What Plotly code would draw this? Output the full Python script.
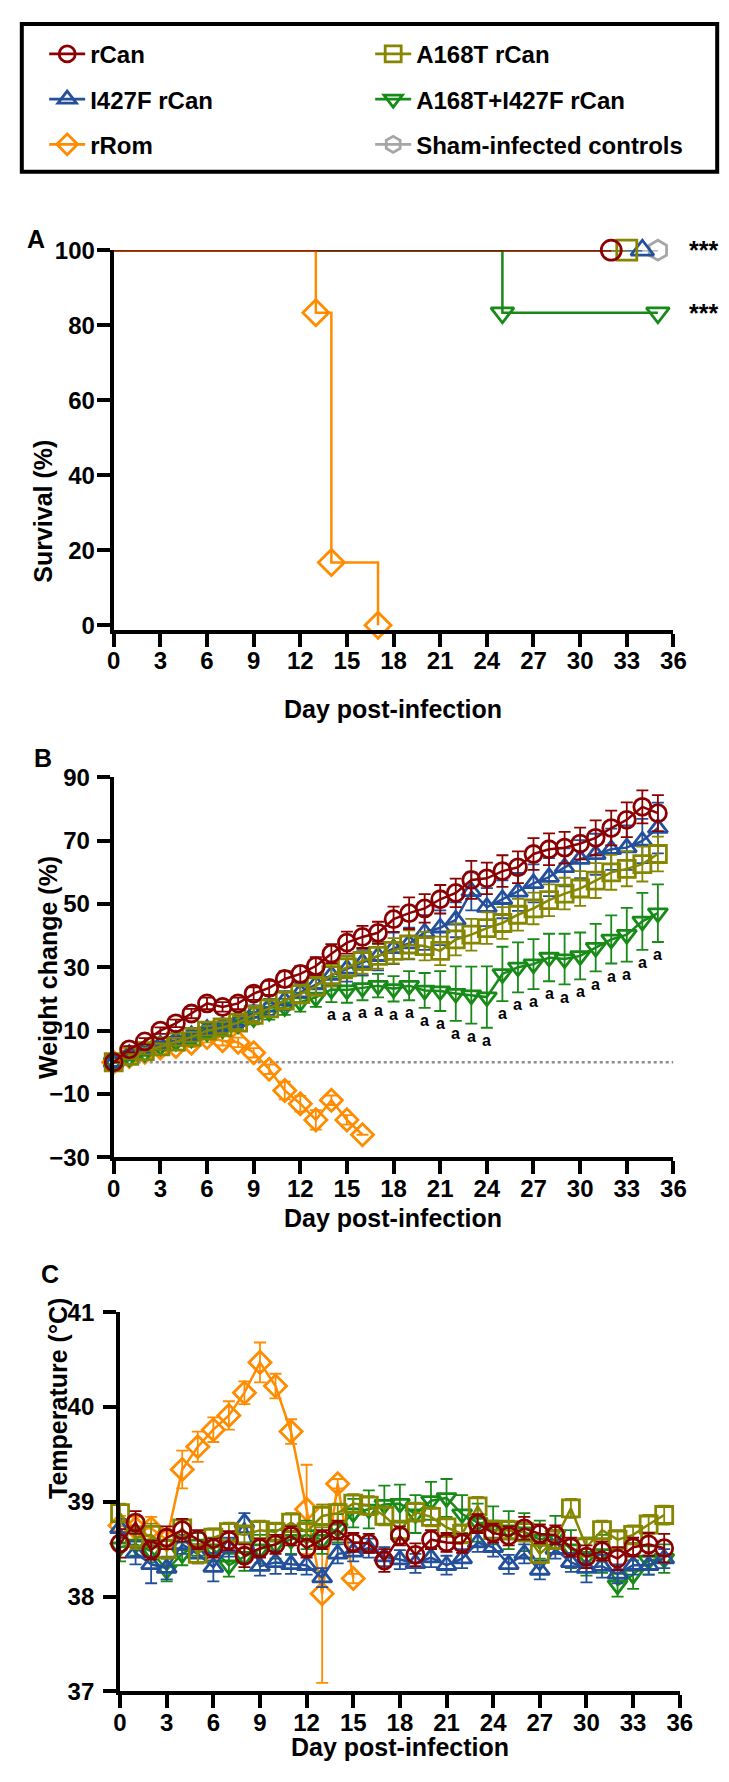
import plotly.graph_objects as go

FONT = 'Liberation Sans, Arial, sans-serif'
W, H = 729, 1782

# ---------------- data ----------------
names = ['rCan', 'I427F rCan', 'rRom', 'A168T rCan', 'A168T+I427F rCan', 'Sham-infected controls']
colors = ['#8B0000', '#234F9B', '#FF8C00', '#868600', '#178A17', '#A6A6A6']
symbols = ['circle-open', 'triangle-up-open', 'diamond-open', 'square-open',
           'triangle-down-open', 'hexagon-open']
legend_rank = [1, 3, 5, 2, 4, 6]

# panel A: Kaplan-Meier survival steps (day, %)
surv_rcan_day = [0, 32]
surv_rcan_pct = [100, 100]
surv_i427f_day = [0, 34]
surv_i427f_pct = [100, 100]
surv_rrom_day = [0, 13, 14, 17]
surv_rrom_pct = [100, 83.3, 16.7, 0]
surv_a168t_day = [0, 33]
surv_a168t_pct = [100, 100]
surv_double_day = [0, 25, 35]
surv_double_pct = [100, 83.3, 83.3]
surv_sham_day = [0, 35]
surv_sham_pct = [100, 100]
surv_stars = ['***', '***']

# panel B: weight change (%)
days = [0, 1, 2, 3, 4, 5, 6, 7, 8, 9, 10, 11, 12, 13, 14, 15, 16, 17,
        18, 19, 20, 21, 22, 23, 24, 25, 26, 27, 28, 29, 30, 31, 32, 33, 34, 35]
wt_rcan = [0, 4.1, 6.6, 10.0, 12.3, 15.4, 18.6, 17.5, 18.6, 21.7, 23.5, 26.3, 27.9, 30.4,
           34.3, 37.8, 39.6, 40.9, 45.2, 47.1, 48.6, 51.5, 53.5, 57.6, 58.1, 60.4, 61.6,
           65.8, 67.3, 67.8, 69.1, 70.9, 74.0, 76.6, 80.7, 78.7]
wt_rcan_err = [0, 1, 1, 1, 1.2, 1.5, 1.8, 1.5, 1.8, 2, 2.2, 2.5, 2.5, 2.8, 3, 3.5, 3.5,
               3.5, 4, 5, 4.5, 4.5, 4.5, 6, 5, 5, 5, 5, 5, 5, 5, 5.5, 5.5, 5.5, 5.2, 5.7]
wt_i427f = [0, 2.5, 4, 5.5, 7, 8.5, 10.5, 11.5, 13, 15.5, 17.5, 19.5, 22, 24.5, 27.5,
            29.5, 31.5, 33.5, 36, 37.5, 41, 42.5, 45, 54, 49, 51.5, 53.8, 56.5, 58.5,
            61.6, 64.2, 65.7, 67.3, 67.8, 69.9, 74.0]
wt_i427f_err = [0, 1, 1, 1, 1.2, 1.5, 1.8, 2, 2, 2.5, 2.5, 3, 3, 3, 3.5, 4, 4, 4.5, 5, 5,
                5.5, 5.5, 5.5, 6, 6, 6, 6, 6, 6, 6, 6, 6.5, 6.5, 7, 7, 8]
wt_rrom = [0, 1.8, 3.2, 4.5, 5, 6, 7.8, 6.8, 6.3, 3.0, -2.2, -8.9, -13.1, -18.2,
           -12.0, -18.2, -22.9]
wt_rrom_err = [0, 0.8, 1, 1, 1, 1.2, 1.5, 1.5, 1.5, 1.5, 1.5, 2.8, 2.5, 3.1, 1.5, 1.5, 0]
wt_a168t = [0, 2, 3.5, 5, 6.5, 8, 10, 11, 12.5, 15, 17, 19.5, 21.5, 24, 27.5, 30, 32,
            33.6, 35.2, 37.2, 36.7, 35.2, 38.8, 40.3, 42.4, 44.0, 46.6, 48.6, 51.2, 53.3,
            54.9, 57.4, 60.0, 61.1, 62.6, 65.8]
wt_a168t_err = [0, 1, 1, 1, 1.2, 1.5, 1.5, 1.8, 2, 2, 2.5, 2.5, 3, 3, 3.5, 3.5, 4, 4, 4,
                4.5, 4.5, 4.5, 5, 5, 5, 5, 5, 5, 5, 5, 5.5, 5.5, 5.5, 5.5, 5.5, 5.5]
wt_double = [0, 1.5, 3, 5, 6.5, 7.5, 9.5, 10.5, 12, 14, 16, 17.5, 19, 20.5, 23, 22.8,
             23.5, 24.2, 23.2, 24.2, 22.7, 22.5, 21.7, 21.2, 20.6, 27.9, 30.0, 31.0, 33.1,
             32.6, 33.6, 36.2, 38.8, 40.3, 44.5, 47.1]
wt_double_err = [0, 1, 1, 1, 1.2, 1.5, 1.5, 1.8, 2, 2, 2.5, 2.5, 3, 3, 4, 4, 3.9, 3.7, 4,
                 4.6, 5.5, 6.3, 8.6, 9, 9.7, 8.6, 7.9, 7.9, 7.5, 8, 7.4, 7.5, 7.6, 8.5, 9, 9.1]
sig_days = [14, 15, 16, 17, 18, 19, 20, 21, 22, 23, 24, 25, 26, 27, 28, 29, 30, 31,
            32, 33, 34, 35]
sig_label = 'a'

# panel C: temperature (°C)
tmp_rcan = [38.56, 38.78, 38.49, 38.62, 38.70, 38.60, 38.51, 38.59, 38.43, 38.51, 38.55,
            38.64, 38.51, 38.60, 38.70, 38.57, 38.56, 38.38, 38.64, 38.44, 38.60, 38.57,
            38.56, 38.77, 38.67, 38.64, 38.72, 38.66, 38.65, 38.52, 38.42, 38.48, 38.40,
            38.52, 38.55, 38.51]
tmp_rcan_err = [0.15, 0.12, 0.1, 0.12, 0.12, 0.1, 0.1, 0.1, 0.12, 0.1, 0.1, 0.1, 0.1, 0.1,
                0.1, 0.1, 0.1, 0.12, 0.1, 0.12, 0.1, 0.1, 0.1, 0.1, 0.1, 0.1, 0.12, 0.1,
                0.1, 0.1, 0.12, 0.1, 0.12, 0.1, 0.12, 0.15]
tmp_i427f = [38.72, 38.46, 38.34, 38.30, 38.55, 38.45, 38.31, 38.52, 38.78, 38.32, 38.36,
             38.34, 38.33, 38.20, 38.45, 38.47, 38.51, 38.42, 38.39, 38.35, 38.41, 38.33,
             38.40, 38.57, 38.52, 38.34, 38.45, 38.28, 38.50, 38.36, 38.30, 38.32, 38.24,
             38.33, 38.33, 38.40]
tmp_i427f_err = [0.1, 0.12, 0.2, 0.12, 0.1, 0.1, 0.15, 0.1, 0.1, 0.1, 0.12, 0.1, 0.1, 0.1,
                 0.1, 0.1, 0.1, 0.1, 0.1, 0.1, 0.1, 0.1, 0.1, 0.1, 0.1, 0.1, 0.1, 0.1, 0.1,
                 0.1, 0.15, 0.12, 0.1, 0.1, 0.1, 0.1]
tmp_rrom = [38.75, 38.72, 38.72, 38.60, 39.34, 39.58, 39.76, 39.91, 40.15, 40.47, 40.22,
            39.74, 38.92, 38.03, 39.19, 38.19]
tmp_rrom_err = [0.1, 0.12, 0.12, 0.1, 0.2, 0.16, 0.13, 0.15, 0.12, 0.21, 0.13, 0.13, 0.47,
                0.94, 0.05, 0.05]
tmp_a168t = [38.88, 38.62, 38.65, 38.50, 38.72, 38.45, 38.62, 38.68, 38.65, 38.70, 38.68,
             38.78, 38.68, 38.85, 38.88, 38.98, 38.96, 38.85, 38.70, 38.89, 38.84, 38.73,
             38.66, 38.95, 38.70, 38.70, 38.68, 38.45, 38.60, 38.93, 38.52, 38.70, 38.60,
             38.65, 38.76, 38.86]
tmp_a168t_err = [0.1, 0.12, 0.12, 0.1, 0.1, 0.1, 0.1, 0.1, 0.1, 0.1, 0.1, 0.1, 0.1, 0.12,
                 0.1, 0.1, 0.1, 0.1, 0.1, 0.1, 0.1, 0.1, 0.1, 0.1, 0.1, 0.1, 0.1, 0.1, 0.1,
                 0.1, 0.1, 0.1, 0.1, 0.1, 0.1, 0.1]
tmp_double = [38.52, 38.55, 38.48, 38.28, 38.45, 38.55, 38.50, 38.33, 38.42, 38.50, 38.55,
              38.60, 38.65, 38.60, 38.72, 38.88, 38.92, 38.97, 38.98, 38.87, 39.01, 39.04,
              38.87, 38.78, 38.75, 38.70, 38.68, 38.60, 38.65, 38.50, 38.42, 38.45, 38.12,
              38.23, 38.38, 38.40]
tmp_double_err = [0.15, 0.12, 0.12, 0.12, 0.12, 0.12, 0.12, 0.12, 0.15, 0.15, 0.15, 0.15,
                  0.15, 0.15, 0.15, 0.15, 0.2, 0.2, 0.2, 0.2, 0.2, 0.2, 0.2, 0.2, 0.2,
                  0.2, 0.2, 0.2, 0.2, 0.2, 0.2, 0.2, 0.12, 0.15, 0.15, 0.15]


def px(x):
    return x / W


def py(y):
    return 1 - y / H


def axis(domain, rng, tick0, dtick, anchor, standoff=0):
    return dict(domain=domain, range=rng, anchor=anchor, tickmode='linear',
                tick0=tick0, dtick=dtick, showgrid=False, zeroline=False,
                showline=True, linecolor='black', linewidth=4, ticks='outside',
                ticklen=13, tickwidth=4, tickcolor='black', fixedrange=True,
                ticklabelstandoff=standoff,
                tickfont=dict(family=FONT, size=24, color='black', weight='bold'))


fig = go.Figure()

# ---- panel A ----
surv = [(surv_rcan_day, surv_rcan_pct), (surv_i427f_day, surv_i427f_pct),
        (surv_rrom_day, surv_rrom_pct), (surv_a168t_day, surv_a168t_pct),
        (surv_double_day, surv_double_pct), (surv_sham_day, surv_sham_pct)]
for i in [5, 1, 3, 4, 2, 0]:
    d, p = surv[i]
    fig.add_trace(go.Scatter(x=d, y=p, mode='lines', line=dict(color=colors[i], width=2.5, shape='hv'),
                             xaxis='x', yaxis='y', showlegend=False, hoverinfo='skip'))
for i in [5, 1, 3, 4, 2, 0]:
    d, p = surv[i]
    fig.add_trace(go.Scatter(x=d[1:], y=p[1:], mode='markers', cliponaxis=False,
                             marker=dict(symbol=symbols[i], size=20, color=colors[i],
                                         line=dict(width=2.8, color=colors[i])),
                             xaxis='x', yaxis='y', showlegend=False))

# legend entries
for i, n in enumerate(names):
    fig.add_trace(go.Scatter(x=[None], y=[None], name=n, mode='lines+markers',
                             legendrank=legend_rank[i], legendgroup=n,
                             line=dict(color=colors[i], width=2.8),
                             marker=dict(symbol=symbols[i], size=16, color=colors[i],
                                         line=dict(width=2.8, color=colors[i])),
                             xaxis='x', yaxis='y'))

# ---- panel B & C ----
wt = [(wt_rcan, wt_rcan_err), (wt_i427f, wt_i427f_err), (wt_rrom, wt_rrom_err),
      (wt_a168t, wt_a168t_err), (wt_double, wt_double_err)]
tmp = [(tmp_rcan, tmp_rcan_err), (tmp_i427f, tmp_i427f_err), (tmp_rrom, tmp_rrom_err),
       (tmp_a168t, tmp_a168t_err), (tmp_double, tmp_double_err)]
for series, xa, ya in [(wt, 'x2', 'y2'), (tmp, 'x3', 'y3')]:
    for i in [2, 4, 1, 3, 0]:
        v, e = series[i]
        fig.add_trace(go.Scatter(
            x=days[:len(v)], y=v, mode='lines+markers', cliponaxis=False,
            line=dict(color=colors[i], width=2.5),
            marker=dict(symbol=symbols[i], size=17, color=colors[i],
                        line=dict(width=2.8, color=colors[i])),
            error_y=dict(type='data', array=e, color=colors[i], thickness=1.8, width=6),
            xaxis=xa, yaxis=ya, showlegend=False))

layout_ann = []
# significance letters under the double mutant
for d in sig_days:
    layout_ann.append(dict(x=d, y=wt_double[d] - wt_double_err[d] - 4, xref='x2', yref='y2',
                           text=sig_label, showarrow=False,
                           font=dict(family=FONT, size=16, color='black', weight='bold')))
# survival stars
for s, yv in zip(surv_stars, [surv_rcan_pct[-1], surv_double_pct[-1]]):
    layout_ann.append(dict(x=px(691), y=yv, xref='paper', yref='y', text=s, showarrow=False,
                           xanchor='left', font=dict(family=FONT, size=25, color='black', weight='bold')))

# axis titles and panel letters
texts = [('Survival (%)', 12, 422, -90), ('Day post-infection', 389, 698, 0),
         ('Weight change (%)', 18, 960, -90), ('Day post-infection', 389, 1231, 0),
         ('Temperature (°C)', 28, 1502, -90), ('Day post-infection', 396, 1768, 0),
         ('A', 10, 204, 0), ('B', 17, 747, 0), ('C', 25, 1287, 0)]
for t, x, y, ang in texts:
    layout_ann.append(dict(x=px(x), y=py(y), xref='paper', yref='paper', text=t,
                           showarrow=False, textangle=ang,
                           font=dict(family=FONT, size=25, color='black', weight='bold')))

fig.update_layout(
    width=W, height=H, margin=dict(l=0, r=0, t=0, b=0),
    paper_bgcolor='white', plot_bgcolor='white',
    xaxis=axis([px(101.5), px(677)], [0, 36], 0, 3, 'y', -6),
    yaxis=axis([py(617), py(231.7)], [-1.2, 100], 0, 20, 'x', -3),
    xaxis2=axis([px(101.5), px(677)], [0, 36], 0, 3, 'y2', -6),
    yaxis2=axis([py(1152.7), py(767)], [-30, 90], -30, 20, 'x2', 2),
    xaxis3=axis([px(108), px(683.5)], [0, 36], 0, 3, 'y3', -6),
    yaxis3=axis([py(1695), py(1310)], [37, 41], 37, 1, 'x3', 4),
    annotations=layout_ann,
    shapes=[
        dict(type='line', xref='x2', yref='y2', x0=0, x1=36, y0=0, y1=0,
             line=dict(color='#8C8C8C', width=2.5, dash='dot'), layer='below'),
        dict(type='rect', xref='paper', yref='paper', x0=px(7), x1=px(722),
             y0=py(152), y1=py(2), line=dict(color='black', width=4)),
    ],
    showlegend=True,
    legend=dict(orientation='h', x=px(30), y=py(10), xanchor='left', yanchor='top',
                entrywidth=275, entrywidthmode='pixels', itemwidth=36,
                tracegroupgap=11,
                font=dict(family=FONT, size=24, color='black', weight='bold'),
                bgcolor='rgba(0,0,0,0)', borderwidth=0, traceorder='grouped'),
)

fig.write_html('out.html')
